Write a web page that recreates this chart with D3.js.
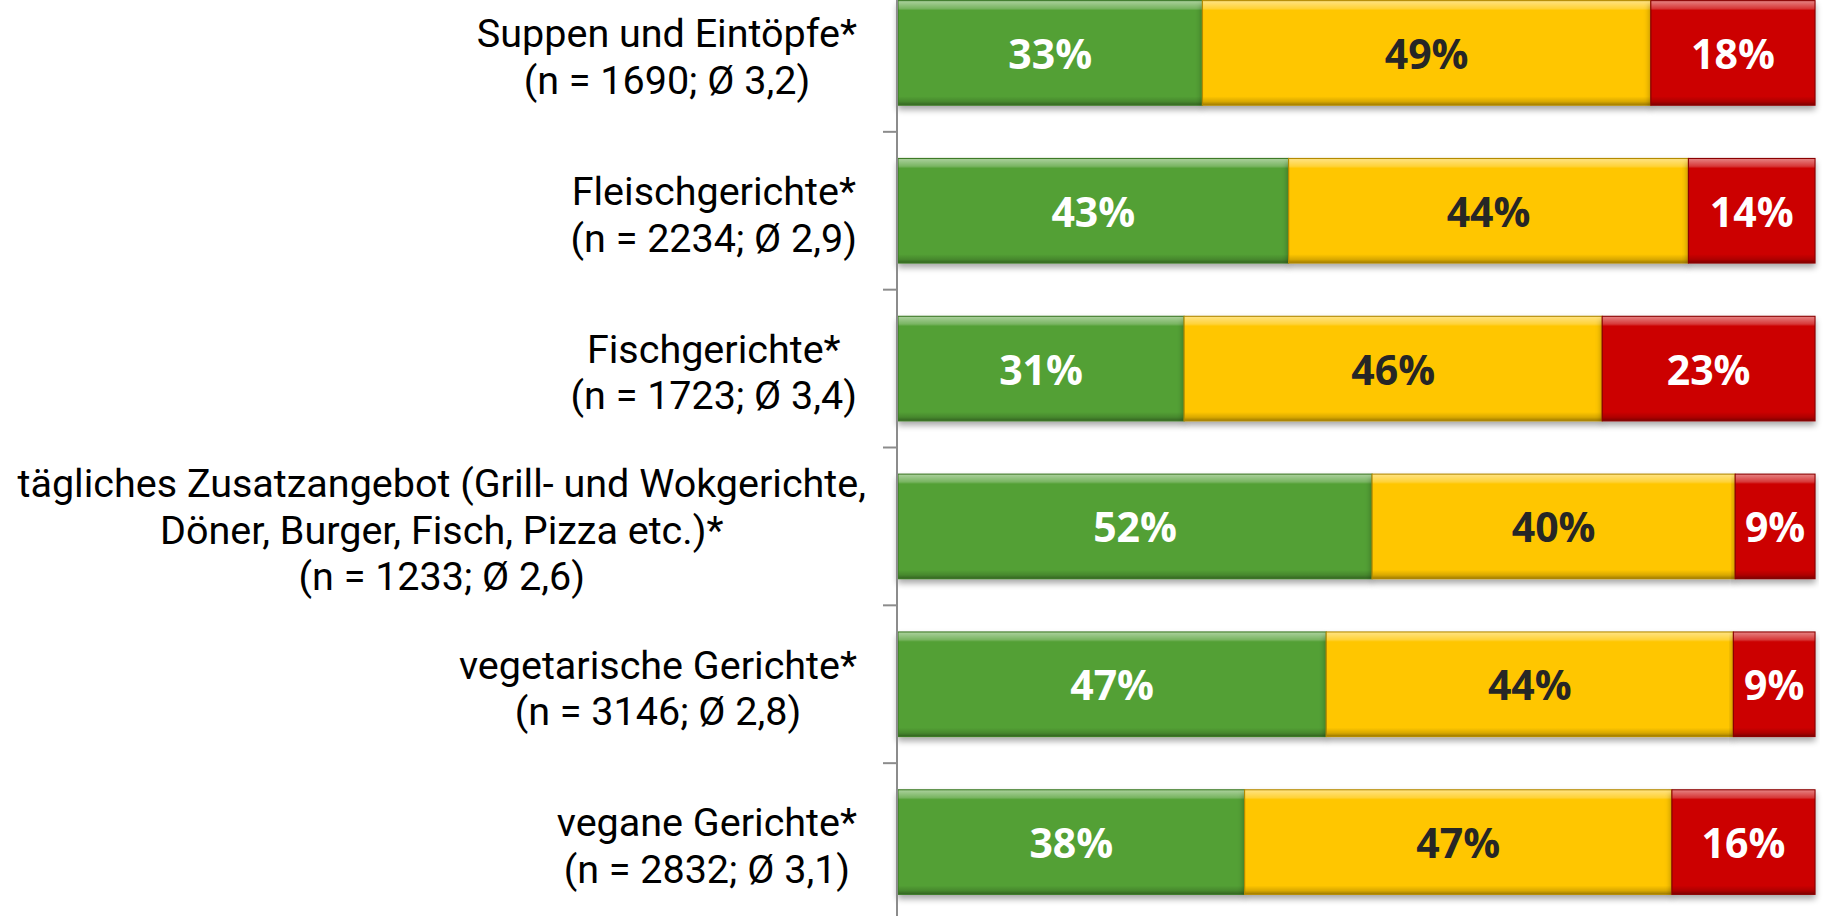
<!DOCTYPE html>
<html>
<head>
<meta charset="utf-8">
<script src="https://cdn.jsdelivr.net/npm/d3@7"></script>
<style>
  html, body { margin: 0; padding: 0; background: #fff; overflow: hidden; }
  svg { display: block; }
  .cat { font-family: "Roboto", sans-serif; font-size: 39.5px; fill: #000; }
  .val { font-family: "Open Sans", sans-serif; font-weight: 700; font-size: 41px; }
</style>
</head>
<body>
<div id="chart"></div>
<script>
// categories (top to bottom), "|" marks a line break in the label
const categories = [
  'Suppen und Eintöpfe*',
  'Fleischgerichte*',
  'Fischgerichte*',
  'tägliches Zusatzangebot (Grill- und Wokgerichte,|Döner, Burger, Fisch, Pizza etc.)*',
  'vegetarische Gerichte*',
  'vegane Gerichte*'
];
const sampleN  = [1690, 2234, 1723, 1233, 3146, 2832];
const averages = ['3,2', '2,9', '3,4', '2,6', '2,8', '3,1'];

// shares in percent
const seriesNames = ['gut', 'mittel', 'schlecht'];
const good   = [33.2, 42.6, 31.2, 51.7, 46.7, 37.8];
const medium = [48.9, 43.6, 45.6, 39.6, 44.4, 46.6];
const bad    = [17.9, 13.8, 23.2,  8.7,  8.9, 15.6];

const W = 1823, H = 916;
const svg = d3.select('#chart').append('svg')
  .attr('width', W).attr('height', H);

const defs = svg.append('defs');

// bevel look: light top edge, darker bottom edge
const bevel = defs.append('linearGradient')
  .attr('id', 'bevel').attr('x1', 0).attr('y1', 0).attr('x2', 0).attr('y2', 1);
[[0, '#fff', 0.5], [0.07, '#fff', 0.22], [0.09, '#fff', 0], [0.92, '#000', 0], [0.97, '#000', 0.15], [1, '#000', 0.35]]
  .forEach(([o, c, a]) => bevel.append('stop').attr('offset', o).attr('stop-color', c).attr('stop-opacity', a));

const shadow = defs.append('filter').attr('id', 'shadow')
  .attr('x', '-5%').attr('y', '-10%').attr('width', '110%').attr('height', '130%');
shadow.append('feGaussianBlur').attr('in', 'SourceAlpha').attr('stdDeviation', 3);
shadow.append('feOffset').attr('dx', 0).attr('dy', 4).attr('result', 'off');
shadow.append('feComponentTransfer').append('feFuncA').attr('type', 'linear').attr('slope', 0.35);
const merge = shadow.append('feMerge');
merge.append('feMergeNode');
merge.append('feMergeNode').attr('in', 'SourceGraphic');

const rows = categories.map((c, i) => ({
  cat: c, n: sampleN[i], avg: averages[i],
  gut: good[i], mittel: medium[i], schlecht: bad[i]
}));

const stack = d3.stack().keys(seriesNames)(rows);

const x = d3.scaleLinear().domain([0, 100]).range([898, 1815]);
const y = d3.scaleBand().domain(categories).range([-26, 921])
  .paddingInner(0.338).paddingOuter(0.169);

const color = d3.scaleOrdinal().domain(seriesNames).range(['#52a035', '#ffc606', '#cc0000']);
const stroke = d3.scaleOrdinal().domain(seriesNames).range(['#3d7a27', '#b38a00', '#8a0000']);
const textColor = d3.scaleOrdinal().domain(seriesNames).range(['#fff', '#262626', '#fff']);

// bars
const layer = svg.append('g').selectAll('g')
  .data(stack).join('g');

layer.selectAll('g.seg')
  .data(s => s.map(d => ({ key: s.key, d })))
  .join('g').attr('class', 'seg')
  .each(function(p) {
    const g = d3.select(this);
    const x0 = x(p.d[0]), x1 = x(p.d[1]);
    const yy = y(p.d.data.cat), bh = y.bandwidth();
    g.append('rect')
      .attr('x', x0).attr('y', yy).attr('width', x1 - x0).attr('height', bh)
      .attr('fill', color(p.key)).attr('stroke', stroke(p.key)).attr('stroke-width', 1.2)
      .attr('filter', 'url(#shadow)');
    g.append('rect')
      .attr('x', x0 + 0.5).attr('y', yy + 0.5).attr('width', x1 - x0 - 1).attr('height', bh - 1)
      .attr('fill', 'url(#bevel)');
    g.append('text')
      .attr('class', 'val')
      .attr('x', (x0 + x1) / 2).attr('y', yy + bh / 2)
      .attr('text-anchor', 'middle').attr('dominant-baseline', 'central')
      .attr('fill', textColor(p.key))
      .text(d3.format('.0f')(p.d[1] - p.d[0]) + '%');
  });

// category axis: vertical line + ticks between categories
const axisX = 897;
const step = y.step();
const gap = step - y.bandwidth();
svg.append('line')
  .attr('x1', axisX).attr('x2', axisX).attr('y1', 0).attr('y2', H)
  .attr('stroke', '#8c8c8c').attr('stroke-width', 2);
svg.append('g').selectAll('line')
  .data(categories.slice(1))
  .join('line')
  .attr('x1', axisX - 14).attr('x2', axisX)
  .attr('y1', d => y(d) - gap / 2).attr('y2', d => y(d) - gap / 2)
  .attr('stroke', '#8c8c8c').attr('stroke-width', 2);

// category labels: block right-aligned, lines centred inside the block
const lineH = 46.5;
rows.forEach(r => {
  const lines = r.cat.split('|').concat([`(n = ${r.n}; Ø ${r.avg})`]);
  const labelRight = lines.length > 2 ? 866 : 857;
  const g = svg.append('g');
  const texts = g.selectAll('text').data(lines).join('text')
    .attr('class', 'cat')
    .attr('text-anchor', 'middle')
    .attr('dominant-baseline', 'central')
    .text(d => d);
  const widest = d3.max(texts.nodes(), n => n.getComputedTextLength());
  const cy = y(r.cat) + y.bandwidth() / 2 + 4;
  texts
    .attr('x', labelRight - widest / 2)
    .attr('y', (d, i) => cy + (i - (lines.length - 1) / 2) * lineH);
});
</script>
</body>
</html>
